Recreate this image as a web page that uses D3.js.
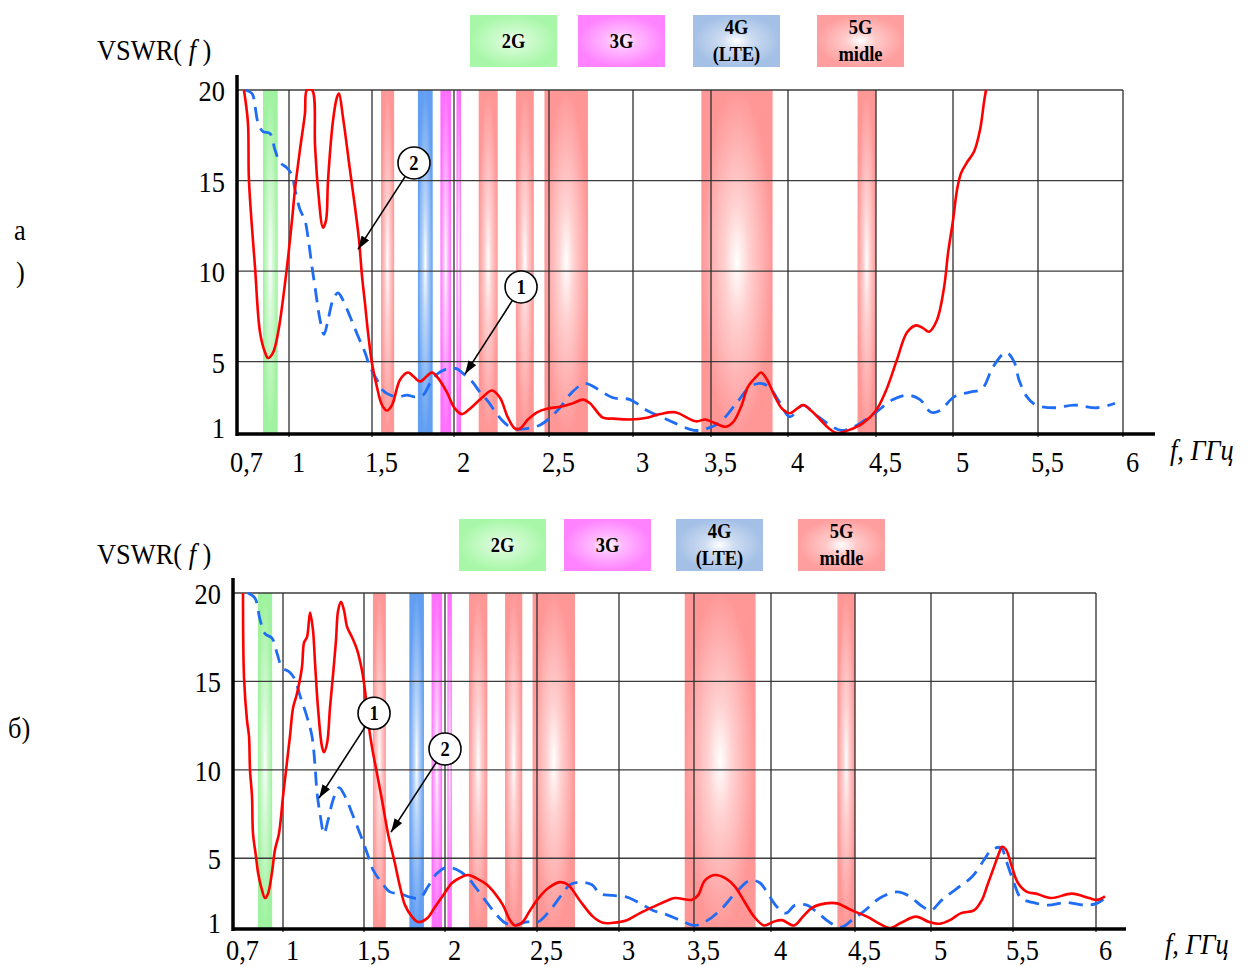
<!DOCTYPE html>
<html>
<head>
<meta charset="utf-8">
<script src="https://cdn.jsdelivr.net/npm/d3@7"></script>
<style>
body { margin: 0; background: #fff; }
svg { display: block; }
text { font-family: "Liberation Serif", "Times New Roman", serif; fill: #000; }
</style>
</head>
<body>
<svg id="chart" width="1250" height="967"></svg>
<script>
////////////////////////////////////////// DATA //////////////////////////////////////////
var xTicks = [0.7, 1, 1.5, 2, 2.5, 3, 3.5, 4, 4.5, 5, 5.5, 6];
var yTicks = [1, 5, 10, 15, 20];

// frequency bands, GHz
var bands = [
    {kind: '2G', f0: 0.850, f1: 0.935},
    {kind: '5G', f0: 1.555, f1: 1.635},
    {kind: '4G', f0: 1.780, f1: 1.870},
    {kind: '3G', f0: 1.917, f1: 1.982},
    {kind: '3G', f0: 2.013, f1: 2.037},
    {kind: '5G', f0: 2.130, f1: 2.230},
    {kind: '5G', f0: 2.326, f1: 2.420},
    {kind: '5G', f0: 2.476, f1: 2.732},
    {kind: '5G', f0: 3.438, f1: 3.900},
    {kind: '5G', f0: 4.395, f1: 4.500}
];
var legendKinds = ['2G', '3G', '4G', '5G'];
var legendText = [['2G'], ['3G'], ['4G', '(LTE)'], ['5G', 'midle']];

// panel a) : [f GHz, VSWR]
var aRed = [[0.740,20],[0.763,18.2],[0.769,15.0],[0.804,10.2],[0.833,6.6],[0.862,5.5],[0.879,5.2],[0.908,5.5],[0.937,6.6],[0.988,10.2],
    [1.018,12.8],[1.036,14.5],[1.066,16.7],[1.096,18.7],[1.108,20],[1.139,20],[1.157,16.9],[1.175,14.5],[1.205,12.4],[1.223,12.8],
    [1.235,15],[1.265,18.3],[1.289,19.6],[1.301,19.8],[1.325,18.5],[1.367,15.6],[1.398,13.5],[1.422,11.7],[1.440,9.7],[1.458,8.2],
    [1.476,6.6],[1.500,4.9],[1.530,3.6],[1.561,2.6],[1.591,2.3],[1.622,2.6],[1.671,4.0],[1.720,4.4],[1.750,4.2],[1.793,3.9],
    [1.835,4.2],[1.866,4.4],[1.902,4.1],[1.957,3.3],[2.005,2.4],[2.042,2.1],[2.084,2.4],[2.147,3.0],[2.200,3.4],[2.242,3.0],
    [2.284,1.9],[2.321,1.3],[2.347,1.3],[2.389,1.8],[2.437,2.2],[2.489,2.4],[2.565,2.5],[2.643,2.7],[2.702,2.9],[2.744,2.7],
    [2.821,1.9],[2.881,1.85],[2.982,1.8],[3.090,1.9],[3.173,2.1],[3.269,2.2],[3.404,1.7],[3.462,1.8],[3.513,1.65],[3.597,1.4],
    [3.643,1.65],[3.695,2.5],[3.740,3.6],[3.792,4.15],[3.825,4.4],[3.864,4.0],[3.916,3.05],[3.961,2.4],[4.011,2.15],[4.051,2.4],
    [4.085,2.6],[4.131,2.3],[4.182,1.8],[4.233,1.3],[4.278,1.05],[4.341,1.2],[4.426,1.6],[4.500,2.3],[4.565,3.4],[4.636,5.1],
    [4.701,6.6],[4.760,7.0],[4.805,6.85],[4.844,6.65],[4.896,7.3],[4.942,9.1],[4.968,11.0],[5.000,12.8],[5.024,14.5],[5.047,15.4],
    [5.082,16.0],[5.124,16.6],[5.159,17.8],[5.182,19.3],[5.194,20]];

var aBlue = [[0.746,20],[0.787,19.8],[0.804,19.1],[0.821,18.2],[0.850,17.7],[0.890,17.6],[0.919,16.7],[0.948,16],[0.988,15.7],[1.018,15.3],
    [1.036,14.5],[1.066,13.4],[1.096,12.8],[1.114,11.9],[1.139,10.2],[1.157,9.1],[1.187,7.3],[1.211,6.5],[1.235,7.3],[1.265,8.4],
    [1.295,8.8],[1.325,8.4],[1.367,7.5],[1.416,6.4],[1.458,5.5],[1.488,4.7],[1.530,4.0],[1.567,3.4],[1.610,3.15],[1.659,3.05],
    [1.713,3.15],[1.762,3.05],[1.811,3.15],[1.854,3.8],[1.896,4.3],[1.957,4.6],[2.016,4.6],[2.047,4.35],[2.095,3.9],[2.137,3.3],
    [2.179,2.8],[2.226,2.1],[2.268,1.6],[2.311,1.3],[2.384,1.3],[2.453,1.5],[2.506,1.9],[2.565,2.45],[2.637,3.3],[2.714,3.8],
    [2.786,3.5],[2.881,3.0],[2.982,2.9],[3.090,2.3],[3.192,1.9],[3.269,1.6],[3.391,1.2],[3.474,1.3],[3.558,1.65],[3.656,2.6],
    [3.753,3.6],[3.818,3.8],[3.877,3.6],[3.942,2.8],[4.011,1.95],[4.085,2.6],[4.159,2.05],[4.222,1.6],[4.301,1.2],[4.375,1.4],
    [4.449,1.85],[4.500,2.2],[4.610,2.9],[4.708,3.15],[4.786,2.9],[4.857,2.2],[4.916,2.3],[5.006,3.05],[5.094,3.3],[5.171,3.5],
    [5.235,4.7],[5.312,5.5],[5.359,5.0],[5.388,4.0],[5.435,3.05],[5.488,2.6],[5.600,2.45],[5.712,2.6],[5.847,2.45],[5.953,2.7]];

// panel б)
var bRed = [[0.760,20],[0.766,15.25],[0.784,12.8],[0.796,11.9],[0.802,10],[0.814,8.5],[0.820,6.4],[0.838,5.1],[0.850,4.2],[0.874,3.2],
    [0.892,2.75],[0.910,3.0],[0.934,4.2],[0.952,5.5],[0.976,6.4],[1.000,8.5],[1.019,10],[1.043,11.9],[1.062,13.5],[1.086,14.3],
    [1.117,15.8],[1.130,17.2],[1.148,17.5],[1.167,18.9],[1.185,17.9],[1.198,16],[1.216,13.5],[1.241,11.3],[1.253,11.0],[1.272,11.5],
    [1.290,13.5],[1.309,15.4],[1.327,17.3],[1.340,19.0],[1.358,19.5],[1.377,19.0],[1.395,18.1],[1.426,17.5],[1.457,16.8],[1.488,15.6],
    [1.506,14.5],[1.525,12.8],[1.549,11.3],[1.580,9.8],[1.611,8.3],[1.648,6.4],[1.691,4.7],[1.722,3.4],[1.753,2.35],[1.796,1.7],
    [1.833,1.4],[1.889,1.6],[1.938,2.25],[1.988,2.9],[2.038,3.6],[2.082,3.9],[2.125,4.05],[2.174,3.85],[2.228,3.5],[2.272,3.0],
    [2.315,2.35],[2.353,1.5],[2.380,1.2],[2.418,1.35],[2.462,2.05],[2.506,2.7],[2.567,3.3],[2.640,3.65],[2.689,3.5],[2.762,2.6],
    [2.841,1.7],[2.902,1.35],[2.963,1.35],[3.053,1.5],[3.140,1.9],[3.227,2.25],[3.320,2.6],[3.373,2.75],[3.487,2.65],[3.526,2.9],
    [3.571,3.75],[3.636,4.05],[3.708,3.85],[3.766,3.4],[3.831,2.5],[3.890,1.7],[3.955,1.2],[4.012,1.4],[4.065,1.5],[4.137,1.2],
    [4.190,1.7],[4.244,2.2],[4.327,2.45],[4.393,2.45],[4.482,2.05],[4.579,1.7],[4.651,1.35],[4.730,1.05],[4.803,1.35],[4.901,1.7],
    [4.987,1.4],[5.055,1.3],[5.116,1.5],[5.183,1.9],[5.262,2.05],[5.311,2.65],[5.341,3.4],[5.378,4.35],[5.415,5.3],[5.433,5.65],
    [5.457,5.5],[5.494,4.5],[5.530,3.6],[5.584,3.1],[5.639,3.0],[5.729,2.75],[5.855,3.0],[5.958,2.75],[6.005,2.65],[6.054,2.85]];

var bBlue = [[0.790,20],[0.832,19.7],[0.862,18.5],[0.892,17.7],[0.934,17.45],[0.964,16.6],[0.994,15.8],[1.043,15.5],[1.074,15.1],[1.105,14.2],
    [1.148,13],[1.179,11.9],[1.198,10.2],[1.210,8.7],[1.228,7.55],[1.253,6.4],[1.278,7.15],[1.309,8.3],[1.346,9.0],[1.383,8.5],
    [1.426,7.55],[1.475,6.4],[1.519,5.3],[1.556,4.35],[1.611,3.6],[1.660,3.1],[1.722,3.0],[1.784,2.8],[1.846,2.75],[1.895,3.4],
    [1.951,4.15],[2.011,4.5],[2.065,4.35],[2.120,3.95],[2.163,3.4],[2.217,2.65],[2.272,1.9],[2.326,1.35],[2.370,1.2],[2.446,1.4],
    [2.506,1.4],[2.579,2.05],[2.640,2.8],[2.701,3.5],[2.762,3.65],[2.835,3.5],[2.884,3.0],[2.963,2.9],[3.053,2.8],[3.140,2.45],
    [3.227,2.05],[3.320,1.8],[3.407,1.5],[3.500,1.2],[3.571,1.4],[3.669,2.05],[3.766,3.0],[3.864,3.75],[3.929,3.6],[3.987,2.9],
    [4.036,2.25],[4.089,1.9],[4.143,2.35],[4.214,2.35],[4.280,1.9],[4.345,1.4],[4.417,1.1],[4.482,1.5],[4.566,2.05],[4.664,2.75],
    [4.776,3.1],[4.849,2.9],[4.947,2.25],[5.000,2.05],[5.067,2.65],[5.159,3.3],[5.250,3.95],[5.323,4.9],[5.366,5.45],[5.427,5.6],
    [5.457,4.9],[5.506,3.6],[5.548,2.75],[5.620,2.5],[5.711,2.35],[5.819,2.5],[5.934,2.35],[6.005,2.45],[6.054,2.75]];

// numbered callouts: circle at (cf, cv), arrow to (tf, tv)
var aNotes = [{n: '2', cf: 1.756, cv: 15.97, tf: 1.416, tv: 11.2},
              {n: '1', cf: 2.353, cv: 9.12, tf: 2.058, tv: 4.31}];
var bNotes = [{n: '1', cf: 1.562, cv: 13.2, tf: 1.222, tv: 8.4},
              {n: '2', cf: 2.000, cv: 11.18, tf: 1.667, tv: 6.48}];

////////////////////////////////////////// LAYOUT //////////////////////////////////////////
// the drawing's frequency grid is not evenly spaced, so x is piecewise along xTicks
var panels = [
    {tag: 'a', red: aRed, blue: aBlue, notes: aNotes,
     xr: [237, 289, 372, 454, 549, 633, 711, 788, 876, 953, 1038, 1123],
     yTop: 90, yBot: 434, axisTop: 75, axisRight: 1155, tickDy: 38,
     legX: [470, 578, 693, 817], legY: 15, vswrY: 60, fX: 1170, fY: 460},
    {tag: 'b', red: bRed, blue: bBlue, notes: bNotes,
     xr: [233, 283, 364, 445, 537, 619, 694, 771, 855, 931, 1013, 1096],
     yTop: 593, yBot: 929, axisTop: 578, axisRight: 1126, tickDy: 31,
     legX: [459, 564, 676, 798], legY: 519, vswrY: 564, fX: 1165, fY: 954}
];

var SERIF = '"Liberation Serif", "Times New Roman", serif';
var SX = 0.88;   // letters in the scan are a little narrow
var bandColor = {'2G': '#9ff29f', '3G': '#ff70ff', '4G': '#629ff2', '5G': '#ff9797'};
var legColor = {'2G': '#a8f7a8', '3G': '#ff82ff', '4G': '#a4c0e6', '5G': '#ff9e9e'};

var svg = d3.select('#chart').attr('font-family', SERIF);
var defs = svg.append('defs');

function radial(id, edge, mid) {
    var gr = defs.append('radialGradient').attr('id', id)
        .attr('cx', 0.5).attr('cy', 0.5).attr('r', 0.5);
    gr.append('stop').attr('offset', '0%').attr('stop-color', '#ffffff');
    gr.append('stop').attr('offset', '35%').attr('stop-color', mid);
    gr.append('stop').attr('offset', '100%').attr('stop-color', edge);
}
legendKinds.forEach(function (k) {
    radial('band' + k, bandColor[k], d3.interpolateRgb(bandColor[k], '#fff')(0.55));
    radial('leg' + k, legColor[k], d3.interpolateRgb(legColor[k], '#fff')(0.45));
});

defs.append('marker').attr('id', 'arrow')
    .attr('viewBox', '0 0 12 8').attr('refX', 12).attr('refY', 4)
    .attr('markerWidth', 14).attr('markerHeight', 9).attr('markerUnits', 'userSpaceOnUse')
    .attr('orient', 'auto')
  .append('path').attr('d', 'M0,0 L12,4 L0,8 Z').attr('fill', '#000');

function label(g, x, y, str, size) {
    return g.append('text')
        .attr('transform', 'translate(' + x + ',' + y + ') scale(' + SX + ',1)')
        .attr('font-family', SERIF)
        .attr('font-size', size)
        .text(str);
}

function comma(d) { return String(d).replace('.', ','); }

function drawPanel(p, i) {
    var g = svg.append('g').attr('class', 'panel-' + p.tag);
    var x = d3.scaleLinear().domain(xTicks).range(p.xr);
    var y = d3.scaleLinear().domain([1, 20]).range([p.yBot, p.yTop]);
    var x0 = x(xTicks[0]), x1 = x(xTicks[xTicks.length - 1]);

    // frequency bands
    g.selectAll('rect.band')
        .data(bands)
        .enter()
        .append('rect')
        .attr('class', 'band')
        .attr('x', function (d) { return x(d.f0); })
        .attr('width', function (d) { return x(d.f1) - x(d.f0); })
        .attr('y', p.yTop)
        .attr('height', p.yBot - p.yTop)
        .attr('fill', function (d) { return 'url(#band' + d.kind + ')'; });

    // grid
    g.selectAll('line.hgrid')
        .data(yTicks.slice(1))
        .enter()
        .append('line')
        .attr('x1', x0).attr('x2', x1)
        .attr('y1', function (d) { return y(d); })
        .attr('y2', function (d) { return y(d); })
        .attr('stroke', '#3c3c3c').attr('stroke-width', 1.3);
    g.selectAll('line.vgrid')
        .data(xTicks.slice(1))
        .enter()
        .append('line')
        .attr('x1', function (d) { return x(d); })
        .attr('x2', function (d) { return x(d); })
        .attr('y1', p.yTop).attr('y2', p.yBot + 3)
        .attr('stroke', '#2e2e2e').attr('stroke-width', 1.3);

    // curves
    var clipId = 'clip' + p.tag;
    defs.append('clipPath').attr('id', clipId)
      .append('rect').attr('x', x0).attr('y', p.yTop - 1)
        .attr('width', p.axisRight - x0).attr('height', p.yBot - p.yTop + 3);

    var line = d3.line()
        .x(function (d) { return x(d[0]); })
        .y(function (d) { return y(d[1]); })
        .curve(d3.curveCatmullRom.alpha(0.5));

    var curves = g.append('g').attr('clip-path', 'url(#' + clipId + ')');
    curves.append('path')
        .datum(p.blue)
        .attr('d', line)
        .attr('fill', 'none')
        .attr('stroke', '#1f6cf5')
        .attr('stroke-width', 2.8)
        .attr('stroke-dasharray', '14,8');
    curves.append('path')
        .datum(p.red)
        .attr('d', line)
        .attr('fill', 'none')
        .attr('stroke', '#ff0000')
        .attr('stroke-width', 2.6);

    // thick axis lines
    g.append('line').attr('x1', x0).attr('x2', x0).attr('y1', p.axisTop).attr('y2', p.yBot + 2)
        .attr('stroke', '#000').attr('stroke-width', 3.5);
    g.append('line').attr('x1', x0 - 1).attr('x2', p.axisRight).attr('y1', p.yBot).attr('y2', p.yBot)
        .attr('stroke', '#000').attr('stroke-width', 3.5);

    // tick labels
    var xa = g.append('g').attr('transform', 'translate(0,' + p.yBot + ')')
        .call(d3.axisBottom(x).tickValues(xTicks).tickFormat(comma).tickSize(0));
    xa.attr('font-family', SERIF).attr('font-size', 30);
    xa.select('.domain').remove();
    xa.selectAll('text')
        .attr('font-family', SERIF)
        .attr('font-size', 30)
        .attr('fill', '#000')
        .attr('transform', 'scale(' + SX + ',1)')
        .attr('x', 9 / SX)
        .attr('y', p.tickDy)
        .attr('dy', 0);

    var ya = g.append('g').attr('transform', 'translate(' + x0 + ',0)')
        .call(d3.axisLeft(y).tickValues(yTicks).tickSize(0));
    ya.attr('font-family', SERIF).attr('font-size', 30);
    ya.select('.domain').remove();
    ya.selectAll('text')
        .attr('font-family', SERIF)
        .attr('font-size', 30)
        .attr('fill', '#000')
        .attr('transform', 'scale(' + SX + ',1)')
        .attr('x', -12 / SX)
        .attr('y', function (d) { return d === 1 ? -7 : 0; })
        .attr('dy', '0.35em');

    // axis titles
    var t = label(g, 97, p.vswrY, 'VSWR( ', 30);
    t.append('tspan').attr('font-style', 'italic').text('f');
    t.append('tspan').text(' )');
    label(g, p.fX, p.fY, 'f, ГГц', 30).attr('font-style', 'italic');

    // callouts
    p.notes.forEach(function (d) {
        var cx = x(d.cf), cy = y(d.cv), tx = x(d.tf), ty = y(d.tv);
        var a = Math.atan2(ty - cy, tx - cx), r = 16;
        g.append('line')
            .attr('x1', cx + r * Math.cos(a)).attr('y1', cy + r * Math.sin(a))
            .attr('x2', tx).attr('y2', ty)
            .attr('stroke', '#000').attr('stroke-width', 1.6)
            .attr('marker-end', 'url(#arrow)');
        g.append('circle').attr('cx', cx).attr('cy', cy).attr('r', r)
            .attr('fill', '#fff').attr('stroke', '#000').attr('stroke-width', 1.6);
        label(g, cx, cy + 7, d.n, 21)
            .attr('font-weight', 'bold').attr('text-anchor', 'middle');
    });

    // legend boxes
    var leg = g.selectAll('g.leg')
        .data(legendKinds)
        .enter()
        .append('g')
        .attr('class', 'leg')
        .attr('transform', function (d, k) { return 'translate(' + p.legX[k] + ',' + p.legY + ')'; });
    leg.append('rect')
        .attr('width', 87).attr('height', 52)
        .attr('fill', function (d) { return 'url(#leg' + d + ')'; });
    leg.each(function (d, k) {
        var lines = legendText[k];
        var sel = d3.select(this);
        lines.forEach(function (s, j) {
            var yy = lines.length === 1 ? 33 : 19 + j * 27;
            label(sel, 43.5, yy, s, 21).attr('font-weight', 'bold').attr('text-anchor', 'middle');
        });
    });
}

panels.forEach(drawPanel);

// panel letters
label(svg, 14, 240, 'а', 30);
label(svg, 16, 282, ')', 30);
label(svg, 8, 738, 'б)', 30);
</script>
</body>
</html>
